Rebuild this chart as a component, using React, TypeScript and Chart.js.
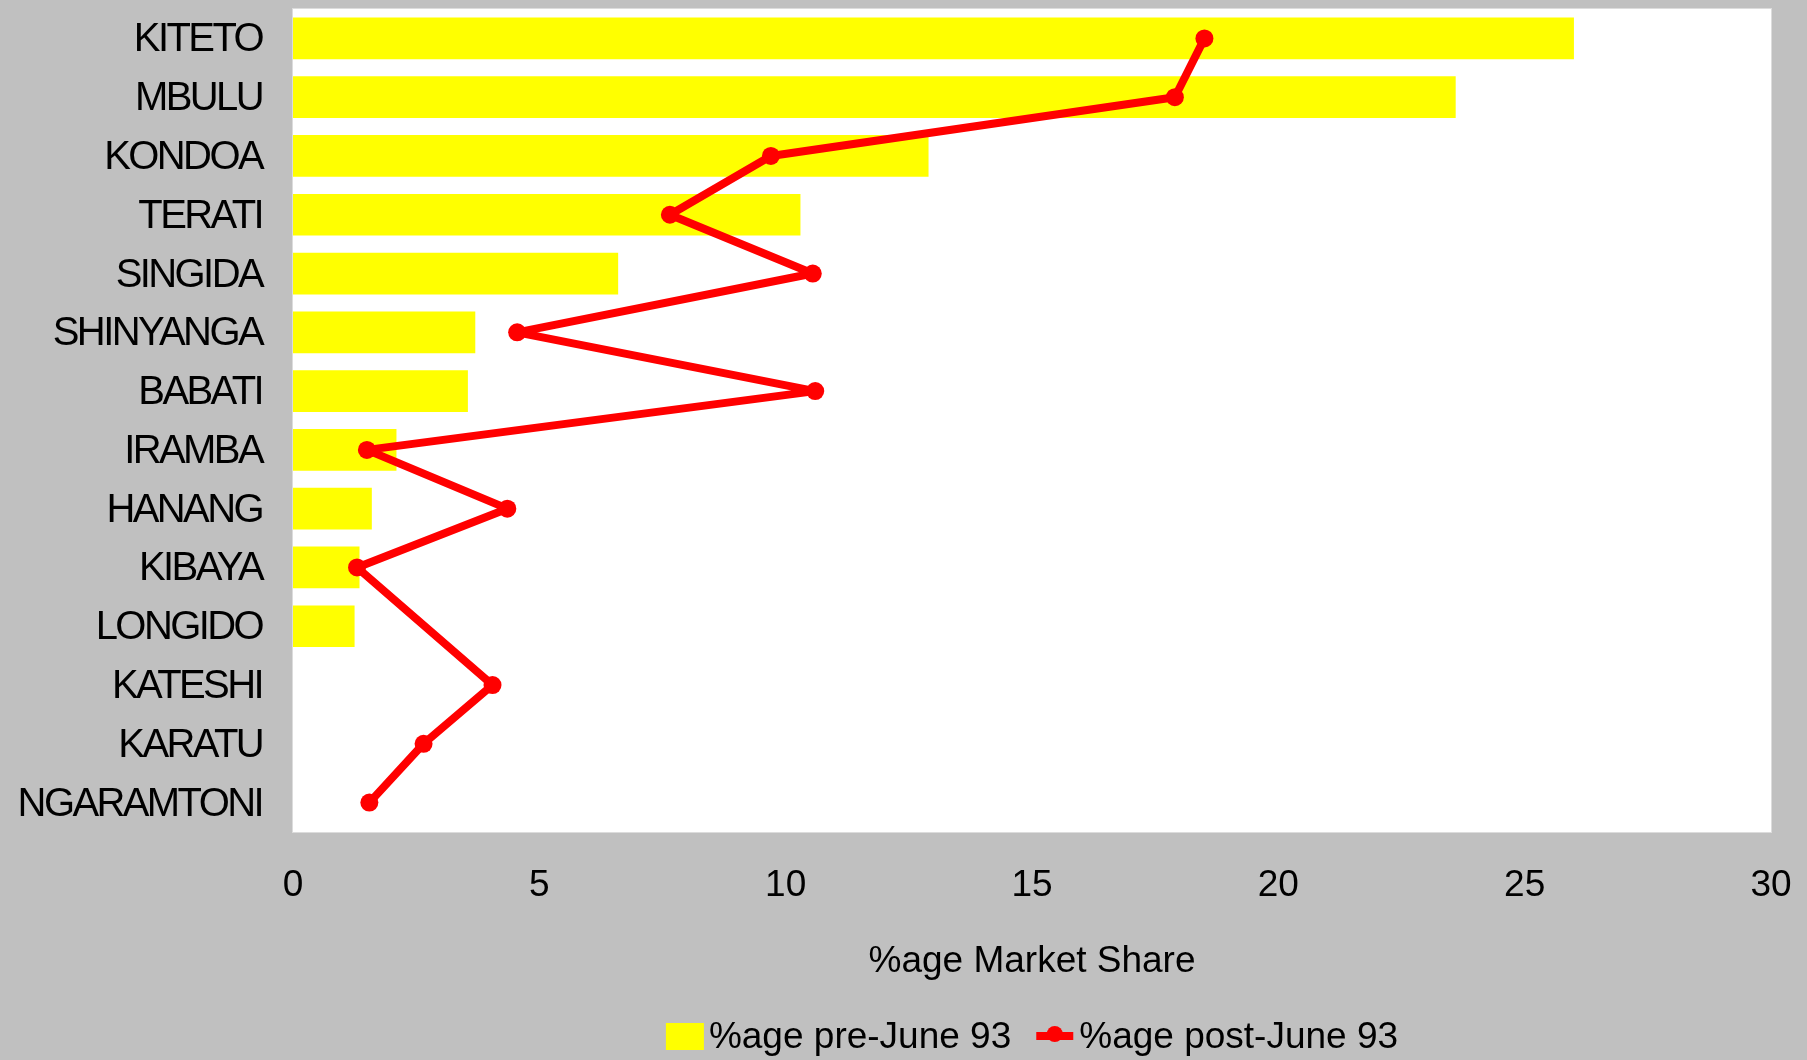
import React, { useEffect, useRef } from 'react';
import { Chart, registerables } from 'chart.js';

Chart.register(...registerables);

const categories = [
  'KITETO', 'MBULU', 'KONDOA', 'TERATI', 'SINGIDA', 'SHINYANGA', 'BABATI',
  'IRAMBA', 'HANANG', 'KIBAYA', 'LONGIDO', 'KATESHI', 'KARATU', 'NGARAMTONI',
];
const preJune = [26.0, 23.6, 12.9, 10.3, 6.6, 3.7, 3.55, 2.1, 1.6, 1.35, 1.25, null, null, null];
const postJune = [18.5, 17.9, 9.7, 7.65, 10.55, 4.55, 10.6, 1.5, 4.35, 1.3, null, 4.05, 2.65, 1.55];
const xTickValues = [0, 5, 10, 15, 20, 25, 30];
const seriesNames = ['%age pre-June 93', '%age post-June 93'];
const axisTitle = '%age Market Share';

const FONT = "'Liberation Sans', Arial, Helvetica, sans-serif";
const BAR_COLOR = '#FFFF00';
const LINE_COLOR = '#FF0000';

export default function App() {
  const ref = useRef<HTMLCanvasElement>(null);

  useEffect(() => {
    document.body.style.margin = '0';
    const canvas = ref.current;
    if (!canvas) return;

    const bgPlugin = {
      id: 'bgPlugin',
      beforeDraw(chart: any) {
        const { ctx, chartArea: a } = chart;
        ctx.save();
        ctx.fillStyle = '#C0C0C0';
        ctx.fillRect(0, 0, chart.width, chart.height);
        ctx.fillStyle = '#FFFFFF';
        ctx.fillRect(a.left, a.top, a.right - a.left, a.bottom - a.top);
        ctx.strokeStyle = '#DCDCDC';
        ctx.lineWidth = 1;
        ctx.strokeRect(a.left - 0.5, a.top - 0.5, a.right - a.left + 1, a.bottom - a.top + 1);
        ctx.restore();
      },
    };

    const labelPlugin = {
      id: 'labelPlugin',
      afterDraw(chart: any) {
        const { ctx, chartArea: a } = chart;
        const yScale = chart.scales.y;
        ctx.save();
        ctx.fillStyle = '#000000';
        // category labels
        ctx.font = `40px ${FONT}`;
        (ctx as any).letterSpacing = '-2.6px';
        ctx.textAlign = 'right';
        ctx.textBaseline = 'middle';
        categories.forEach((c, i) => {
          ctx.fillText(c, a.left - 31, yScale.getPixelForValue(i) + 2);
        });
        (ctx as any).letterSpacing = '0px';

        // legend
        ctx.font = `37px ${FONT}`;
        ctx.textAlign = 'left';
        const w1 = ctx.measureText(seriesNames[0]).width;
        const w2 = ctx.measureText(seriesNames[1]).width;
        const boxW = 38, gap1 = 5, gapMid = 25, markW = 37, gap2 = 6;
        const total = boxW + gap1 + w1 + gapMid + markW + gap2 + w2;
        const cx = (a.left + a.right) / 2;
        let x = cx - total / 2;
        const ly = 1037;
        ctx.fillStyle = BAR_COLOR;
        ctx.fillRect(x, ly - 14, boxW, 27);
        x += boxW + gap1;
        ctx.fillStyle = '#000000';
        ctx.fillText(seriesNames[0], x, ly + 1);
        x += w1 + gapMid;
        ctx.strokeStyle = LINE_COLOR;
        ctx.lineWidth = 8;
        ctx.beginPath();
        ctx.moveTo(x, ly - 1);
        ctx.lineTo(x + markW, ly - 1);
        ctx.stroke();
        ctx.fillStyle = LINE_COLOR;
        ctx.beginPath();
        ctx.arc(x + markW / 2, ly - 3, 8, 0, Math.PI * 2);
        ctx.fill();
        x += markW + gap2;
        ctx.fillStyle = '#000000';
        ctx.fillText(seriesNames[1], x, ly + 1);
        ctx.restore();
      },
    };

    const chart = new Chart(canvas, {
      type: 'bar',
      data: {
        labels: categories,
        datasets: [
          {
            type: 'line',
            label: seriesNames[1],
            data: postJune,
            borderColor: LINE_COLOR,
            backgroundColor: LINE_COLOR,
            borderWidth: 8,
            borderJoinStyle: 'round',
            borderCapStyle: 'round',
            pointRadius: 9,
            pointBorderWidth: 0,
            pointBackgroundColor: LINE_COLOR,
            spanGaps: true,
            tension: 0,
            order: 0,
          } as any,
          {
            type: 'bar',
            label: seriesNames[0],
            data: preJune,
            backgroundColor: BAR_COLOR,
            borderWidth: 0,
            barPercentage: 0.71,
            categoryPercentage: 1,
            order: 1,
          },
        ],
      },
      options: {
        indexAxis: 'y',
        responsive: false,
        animation: false,
        devicePixelRatio: 1,
        layout: { padding: { top: 9, right: 36, bottom: 0, left: 0 } },
        plugins: {
          legend: { display: false },
          tooltip: { enabled: false },
        },
        scales: {
          x: {
            type: 'linear',
            min: 0,
            max: 30,
            afterBuildTicks(axis: any) {
              axis.ticks = xTickValues.map((v) => ({ value: v }));
            },
            afterFit(axis: any) {
              axis.height = 228;
              axis.paddingLeft = 0;
              axis.paddingRight = 0;
            },
            grid: { display: false, drawTicks: false },
            border: { display: false },
            ticks: {
              color: '#000000',
              font: { family: FONT, size: 37 },
              padding: 32,
              maxRotation: 0,
            },
            title: {
              display: true,
              text: axisTitle,
              color: '#000000',
              font: { family: FONT, size: 37 },
              padding: { top: 0, bottom: 76 },
            },
          },
          y: {
            type: 'category',
            afterFit(axis: any) {
              axis.width = 293;
              axis.paddingTop = 0;
              axis.paddingBottom = 0;
            },
            grid: { display: false, drawTicks: false },
            border: { display: false },
            ticks: { display: false },
          },
        },
      },
      plugins: [bgPlugin, labelPlugin],
    } as any);

    return () => {
      chart.destroy();
    };
  }, []);

  return (
    <div style={{ position: 'fixed', left: 0, top: 0, width: 1807, height: 1060, background: '#C0C0C0' }}>
      <canvas ref={ref} width={1807} height={1060} style={{ display: 'block', width: 1807, height: 1060 }} />
    </div>
  );
}
